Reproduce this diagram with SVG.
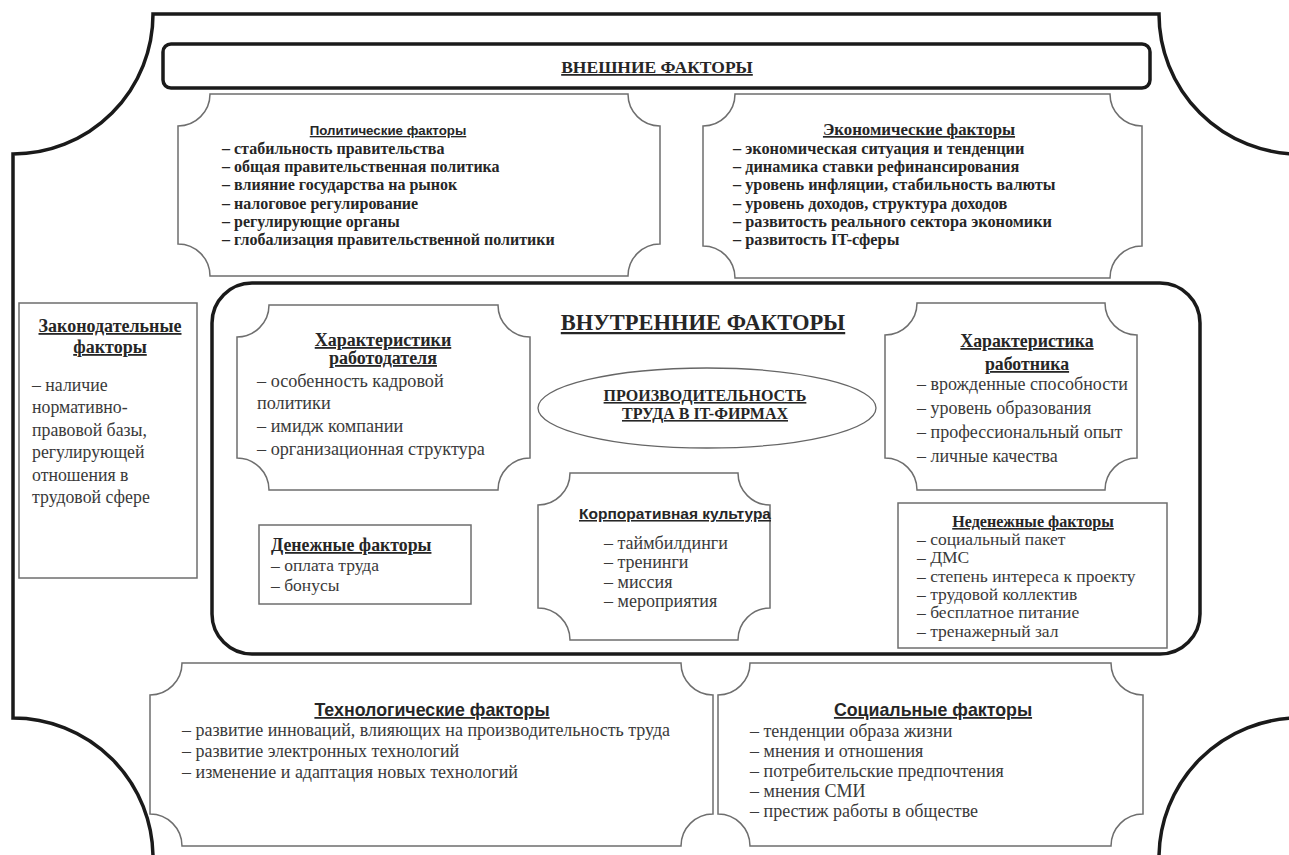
<svg xmlns="http://www.w3.org/2000/svg" width="1289" height="855" viewBox="0 0 1289 855">
<style>
.thick{fill:none;stroke:#1a1a1a;stroke-width:3.5}
.thin{fill:#fff;stroke:#6e6e6e;stroke-width:1.5}
.sb{font-family:'Liberation Serif','DejaVu Serif','Times New Roman',serif;font-weight:bold;fill:#262626}
.sr{font-family:'Liberation Serif','DejaVu Serif','Times New Roman',serif;fill:#3a3a3a}
.ss{font-family:'Liberation Sans',Arial,sans-serif;font-weight:bold;fill:#262626}
.u{text-decoration:underline}
.mid{text-anchor:middle}
</style>
<rect width="1289" height="855" fill="#fff"/>
<g id="frame">
<path class="thick" d="M153,14 H1159 A140,140 0 0 0 1299,154 V718 A140,140 0 0 0 1159,858 H153 A140,140 0 0 0 13,718 V154 A140,140 0 0 0 153,14 Z"/>
</g>
<g id="external-title">
<rect class="thick" x="163" y="44" width="987" height="44" rx="8"/>
<text class="sb u mid" x="657" y="73" font-size="17.5">ВНЕШНИЕ ФАКТОРЫ</text>
</g>
<g id="political">
<path class="thin" d="M210,94 H628 A32,32 0 0 0 660,126 V244 A32,32 0 0 0 628,276 H210 A32,32 0 0 0 178,244 V126 A32,32 0 0 0 210,94 Z"/>
<text class="ss u mid" x="388" y="135" font-size="13.3">Политические факторы</text>
<g class="sb" font-size="16">
<text x="222" y="154">– стабильность правительства</text>
<text x="222" y="172">– общая правительственная политика</text>
<text x="222" y="190">– влияние государства на рынок</text>
<text x="222" y="209">– налоговое регулирование</text>
<text x="222" y="227">– регулирующие органы</text>
<text x="222" y="245">– глобализация правительственной политики</text>
</g>
</g>
<g id="economic">
<path class="thin" d="M735,94 H1110 A32,32 0 0 0 1142,126 V246 A32,32 0 0 0 1110,278 H735 A32,32 0 0 0 703,246 V126 A32,32 0 0 0 735,94 Z"/>
<text class="sb u mid" x="919" y="135" font-size="16.8">Экономические факторы</text>
<g class="sb" font-size="16.3">
<text x="733" y="154">– экономическая ситуация и тенденции</text>
<text x="733" y="172">– динамика ставки рефинансирования</text>
<text x="733" y="190">– уровень инфляции, стабильность валюты</text>
<text x="733" y="209">– уровень доходов, структура доходов</text>
<text x="733" y="227">– развитость реального сектора экономики</text>
<text x="733" y="245">– развитость IT-сферы</text>
</g>
</g>
<g id="legislative">
<rect class="thin" x="19" y="303" width="178" height="275"/>
<text class="sb u mid" x="110" y="332" font-size="18">Законодательные</text>
<text class="sb u mid" x="110" y="353" font-size="18">факторы</text>
<g class="sr" font-size="17.8">
<text x="32" y="391">– наличие</text>
<text x="32" y="413">нормативно-</text>
<text x="32" y="436">правовой базы,</text>
<text x="32" y="458">регулирующей</text>
<text x="32" y="481">отношения в</text>
<text x="32" y="503">трудовой сфере</text>
</g>
</g>
<g id="internal">
<rect class="thick" x="212" y="283" width="988" height="371" rx="40"/>
<text class="sb u mid" x="703" y="330" font-size="22.5">ВНУТРЕННИЕ ФАКТОРЫ</text>
</g>
<g id="employer">
<path class="thin" d="M269,305 H498 A32,32 0 0 0 530,337 V458 A32,32 0 0 0 498,490 H269 A32,32 0 0 0 237,458 V337 A32,32 0 0 0 269,305 Z"/>
<text class="sb u mid" x="383" y="346" font-size="18">Характеристики </text>
<text class="sb u mid" x="383" y="364" font-size="18">работодателя</text>
<g class="sr" font-size="18.2">
<text x="257" y="387">– особенность кадровой</text>
<text x="257" y="409">политики</text>
<text x="257" y="432">– имидж компании</text>
<text x="257" y="455">– организационная структура</text>
</g>
</g>
<g id="productivity">
<ellipse cx="707" cy="408" rx="169" ry="40" fill="#fff" stroke="#666" stroke-width="1.3"/>
<text class="sb u mid" x="705" y="401" font-size="16">ПРОИЗВОДИТЕЛЬНОСТЬ</text>
<text class="sb u mid" x="705" y="419" font-size="16">ТРУДА В IT-ФИРМАХ</text>
</g>
<g id="worker">
<path class="thin" d="M917,303 H1105 A32,32 0 0 0 1137,335 V458 A32,32 0 0 0 1105,490 H917 A32,32 0 0 0 885,458 V335 A32,32 0 0 0 917,303 Z"/>
<text class="sb u mid" x="1027" y="347" font-size="17.8">Характеристика </text>
<text class="sb u mid" x="1027" y="370" font-size="17.8">работника</text>
<g class="sr" font-size="18">
<text x="917" y="390">– врожденные способности</text>
<text x="917" y="414">– уровень образования</text>
<text x="917" y="438">– профессиональный опыт</text>
<text x="917" y="462">– личные качества</text>
</g>
</g>
<g id="monetary">
<rect class="thin" x="259" y="525" width="212" height="79"/>
<text class="sb u" x="271" y="551" font-size="17.8">Денежные факторы</text>
<g class="sr" font-size="17.5">
<text x="271" y="571">– оплата труда</text>
<text x="271" y="591">– бонусы</text>
</g>
</g>
<g id="corporate">
<path class="thin" d="M570,473 H738 A32,32 0 0 0 770,505 V608 A32,32 0 0 0 738,640 H570 A32,32 0 0 0 538,608 V505 A32,32 0 0 0 570,473 Z"/>
<text class="ss u" x="579" y="519" font-size="15.5">Корпоративная культура</text>
<g class="sr" font-size="18">
<text x="604" y="549">– таймбилдинги</text>
<text x="604" y="568">– тренинги</text>
<text x="604" y="588">– миссия</text>
<text x="604" y="607">– мероприятия</text>
</g>
</g>
<g id="nonmonetary">
<rect class="thin" x="898" y="503" width="269" height="145"/>
<text class="sb u mid" x="1033" y="527" font-size="16.1">Неденежные факторы</text>
<g class="sr" font-size="17.5">
<text x="917" y="545">– социальный пакет</text>
<text x="917" y="563">– ДМС</text>
<text x="917" y="582">– степень интереса к проекту</text>
<text x="917" y="600">– трудовой коллектив</text>
<text x="917" y="618">– бесплатное питание</text>
<text x="917" y="637">– тренажерный зал</text>
</g>
</g>
<g id="technological">
<path class="thin" d="M182,663 H681 A32,32 0 0 0 713,695 V814 A32,32 0 0 0 681,846 H182 A32,32 0 0 0 150,814 V695 A32,32 0 0 0 182,663 Z"/>
<text class="ss u mid" x="432" y="716" font-size="17.8">Технологические факторы</text>
<g class="sr" font-size="18">
<text x="182" y="736">– развитие инноваций, влияющих на производительность труда</text>
<text x="182" y="757">– развитие электронных технологий</text>
<text x="182" y="778">– изменение и адаптация новых технологий</text>
</g>
</g>
<g id="social">
<path class="thin" d="M750,663 H1111 A32,32 0 0 0 1143,695 V814 A32,32 0 0 0 1111,846 H750 A32,32 0 0 0 718,814 V695 A32,32 0 0 0 750,663 Z"/>
<text class="ss u mid" x="933" y="716" font-size="17.8">Социальные факторы</text>
<g class="sr" font-size="18">
<text x="750" y="737">– тенденции образа жизни</text>
<text x="750" y="757">– мнения и отношения</text>
<text x="750" y="777">– потребительские предпочтения</text>
<text x="750" y="797">– мнения СМИ</text>
<text x="750" y="817">– престиж работы в обществе</text>
</g>
</g>
<g id="connectors"></g>
</svg>
